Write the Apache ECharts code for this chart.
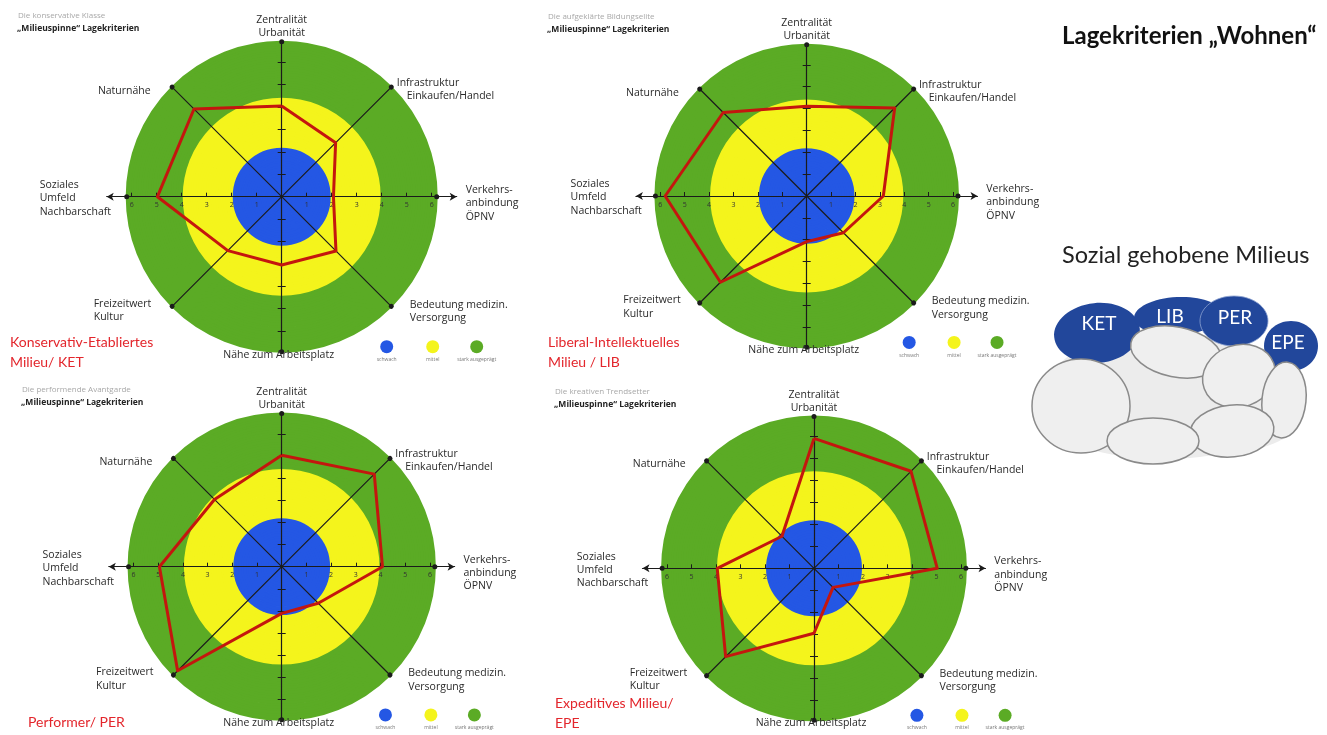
<!DOCTYPE html>
<html><head><meta charset="utf-8">
<script src="https://cdn.jsdelivr.net/npm/echarts@6/dist/echarts.min.js"></script>
<style>html,body{margin:0;padding:0;background:#fff}#c{width:1327px;height:735px}</style>
</head><body><div id="c"></div>
<script>
// ---------------- data ----------------
const criteriaLines = [
  ['Zentralität', 'Urbanität'],
  ['Infrastruktur', 'Einkaufen/Handel'],
  ['Verkehrs-', 'anbindung', 'ÖPNV'],
  ['Bedeutung medizin.', 'Versorgung'],
  ['Nähe zum Arbeitsplatz'],
  ['Freizeitwert', 'Kultur'],
  ['Soziales', 'Umfeld', 'Nachbarschaft'],
  ['Naturnähe']
]; // clockwise from the top
const criteria = criteriaLines.map(l => l.join(' '));

const valuesKET = [3.63, 3.05, 2.07, 3.07, 2.73, 3.05, 4.97, 4.96];
const valuesLIB = [3.68, 5.10, 3.14, 2.13, 1.87, 5.00, 5.80, 4.84];
const valuesPER = [4.51, 5.30, 4.08, 2.09, 1.89, 5.96, 4.95, 3.85];
const valuesEPE = [5.30, 5.60, 5.03, 1.10, 2.65, 5.10, 3.95, 1.85];

const milieuTitles = [['Konservativ-Etabliertes', 'Milieu/ KET'], ['Liberal-Intellektuelles', 'Milieu / LIB'], ['Performer/ PER'], ['Expeditives Milieu/', 'EPE']];
const milieuHeaders = ['Die konservative Klasse', 'Die aufgeklärte Bildungselite', 'Die performende Avantgarde', 'Die kreativen Trendsetter'];
const spiderTitle = '„Milieuspinne“ Lagekriterien';
const bandNames = ['schwach', 'mittel', 'stark ausgeprägt'];
const bandLimits = [2, 4, 6.2];
const tickValues = [-6, -5, -4, -3, -2, -1, 1, 2, 3, 4, 5, 6];
const mainTitle = 'Lagekriterien „Wohnen“';
const subTitle = 'Sozial gehobene Milieus';
const milieuCodes = ['KET', 'LIB', 'PER', 'EPE'];

// ---------------- style / layout ----------------
const BLUE = '#2457e4', YELLOW = '#f4f41c', GREEN = '#5bab25', RED = '#c4160e', AX = '#1b1b1b';
const bandColors = [BLUE, YELLOW, GREEN];
const FONT = '"Open Sans", sans-serif';
const LATO = 'Lato, "Open Sans", sans-serif';
const OUTER = bandLimits[2];
const STEP = 0.2;
const NSPLIT = Math.round(OUTER / STEP);
const ringColors = [];
for (let k = 0; k < NSPLIT; k++) {
  const v = (k + 0.5) * STEP;
  ringColors.push(v < bandLimits[0] ? BLUE : v < bandLimits[1] ? YELLOW : GREEN);
}
const seamColors = ringColors.concat([GREEN]);
// ECharts radar places indicators anticlockwise from the top
const order = [0, 7, 6, 5, 4, 3, 2, 1];

const panels = [
  {cx: 281.7, cy: 196.7, u: 25.0, vals: valuesKET, hdr: [18, 16], red: [10, 342]},
  {cx: 806.7, cy: 196.0, u: 24.4, vals: valuesLIB, hdr: [548, 17], red: [548, 342]},
  {cx: 281.7, cy: 566.7, u: 24.7, vals: valuesPER, hdr: [22, 390], red: [28, 722]},
  {cx: 814.0, cy: 568.3, u: 24.5, vals: valuesEPE, hdr: [555, 392], red: [555, 703]}
];
const labelPos = [
  {x: 0, y: -177, align: 'center'},
  {x: 115, y: -114, align: 'left', indent: [0, 10]},
  {x: 184, y: -7, align: 'left'},
  {x: 128, y: 108, align: 'left'},
  {x: -3, y: 158, align: 'center'},
  {x: -188, y: 107, align: 'left'},
  {x: -242, y: -12, align: 'left'},
  {x: -131, y: -106, align: 'right'}
];
const legendPos = [105, 151, 195];

function txt(x, y, text, font, fill, align, valign, z) {
  return {type: 'text', x: x, y: y, z: z || 20, silent: true,
    style: {text: text, font: font, fill: fill, align: align || 'left', textAlign: align || 'left',
      verticalAlign: valign || 'middle', textVerticalAlign: valign || 'middle'}};
}

const radar = [], series = [], grid = [], xAxis = [], yAxis = [], graphic = [];
panels.forEach((p, k) => {
  const s = p.u / 25;
  const uy = 22.4 * s;
  radar.push({
    center: [p.cx, p.cy], radius: p.u * OUTER, startAngle: 90, shape: 'circle',
    splitNumber: NSPLIT, z: 0,
    indicator: order.map(i => ({name: criteria[i], min: 0, max: OUTER})),
    axisName: {show: false},
    splitLine: {show: true, lineStyle: {color: seamColors, width: 2}},
    splitArea: {show: true, areaStyle: {color: ringColors, opacity: 1}},
    axisLine: {show: true, symbol: ['none', 'circle'], symbolSize: [5, 5], lineStyle: {color: AX, width: 1.2}},
    axisTick: {show: false}, axisLabel: {show: false}
  });
  series.push({
    type: 'radar', radarIndex: k, symbol: 'none', silent: true, z: 5,
    lineStyle: {color: RED, width: 3}, areaStyle: null,
    data: [{name: milieuTitles[k].join(' '), value: order.map(i => p.vals[i])}]
  });
  // grid A: horizontal scale (its bottom edge is the centre line)
  const ga = grid.length;
  grid.push({left: p.cx - 7 * p.u, width: 14 * p.u, top: p.cy - 10, height: 10,
    containLabel: false, outerBoundsMode: 'none', show: false});
  xAxis.push({
    gridIndex: ga, type: 'value', min: -7, max: 7, interval: 1, position: 'bottom', z: 3,
    axisLine: {show: true, onZero: false, symbol: ['arrow', 'arrow'], symbolSize: [6, 7], lineStyle: {color: AX, width: 1.2}},
    axisTick: {show: true, inside: true, length: 4, customValues: tickValues, lineStyle: {color: AX, width: 1}},
    axisLabel: {show: true, customValues: tickValues, formatter: v => String(Math.abs(v)), fontSize: 7, fontFamily: FONT, color: '#333', margin: 5},
    splitLine: {show: false}
  });
  yAxis.push({gridIndex: ga, type: 'value', min: 0, max: 1, show: false});
  // grid B: vertical scale ticks (its left edge is the centre line)
  const gb = grid.length;
  grid.push({left: p.cx, width: 10, top: p.cy - 6 * uy, height: 12 * uy,
    containLabel: false, outerBoundsMode: 'none', show: false});
  xAxis.push({gridIndex: gb, type: 'value', min: 0, max: 1, show: false});
  [false, true].forEach(inside => {
    yAxis.push({
      gridIndex: gb, type: 'value', min: -6, max: 6, interval: 1, position: 'left', z: 3,
      axisLine: {show: false, onZero: false},
      axisTick: {show: true, inside: inside, length: 4, customValues: tickValues, lineStyle: {color: AX, width: 1}},
      axisLabel: {show: false}, splitLine: {show: false}
    });
  });
  // criteria names
  criteriaLines.forEach((lines, i) => {
    const lp = labelPos[i];
    lines.forEach((t, j) => {
      const ind = lp.indent ? lp.indent[j] : 0;
      graphic.push(txt(p.cx + (lp.x + ind) * s, p.cy + (lp.y + j * 13.5) * s, t, '10.5px ' + FONT, '#2a2a2a', lp.align));
    });
  });
  // legend of bands
  bandNames.forEach((b, j) => {
    graphic.push({type: 'circle', x: p.cx + legendPos[j] * s, y: p.cy + 150 * s, z: 20, silent: true,
      shape: {cx: 0, cy: 0, r: 6.5}, style: {fill: bandColors[j]}});
    graphic.push(txt(p.cx + legendPos[j] * s, p.cy + 163 * s, b, '5px ' + FONT, '#777', 'center'));
  });
  // headers
  graphic.push(txt(p.hdr[0], p.hdr[1], milieuHeaders[k], '8px ' + FONT, '#a8a8a8', 'left'));
  graphic.push(txt(p.hdr[0] - 1, p.hdr[1] + 13, spiderTitle, 'bold 8.5px ' + FONT, '#222', 'left'));
  // red milieu names
  milieuTitles[k].forEach((t, j) => {
    graphic.push(txt(p.red[0], p.red[1] + j * 20, t, '14px ' + LATO, '#e3262c', 'left'));
  });
});

// right-hand titles
graphic.push(txt(1062, 36, mainTitle, 'bold 24px ' + LATO, '#111', 'left'));
graphic.push(txt(1062, 255, subTitle, '23.5px ' + LATO, '#222', 'left'));

// milieu landscape illustration
graphic.push({type: 'polygon', z: 10, silent: true, shape: {smooth: 0.3, points: [
  [1062, 362], [1100, 345], [1140, 333], [1220, 338], [1270, 360], [1295, 388], [1300, 425],
  [1270, 445], [1230, 452], [1190, 458], [1140, 458], [1100, 452], [1072, 440], [1060, 400]]},
  style: {fill: '#ececec'}});
const blueBlobs = [
  {x: 1097, y: 333, rx: 43, ry: 30, r: 0.1},
  {x: 1178, y: 316, rx: 44, ry: 19, r: 0.05},
  {x: 1234, y: 321, rx: 34, ry: 25, r: 0},
  {x: 1291, y: 346, rx: 27, ry: 25, r: 0}
];
blueBlobs.forEach(b => graphic.push({type: 'ellipse', x: b.x, y: b.y, rotation: b.r, z: 11, silent: true,
  shape: {cx: 0, cy: 0, rx: b.rx, ry: b.ry}, style: {fill: '#22479b'}}));
graphic.push({type: 'ellipse', x: 1234, y: 321, z: 11, silent: true, shape: {cx: 0, cy: 0, rx: 34, ry: 25},
  style: {fill: 'none', stroke: '#8da2d0', lineWidth: 0.8}});
const grayEllipses = [
  {x: 1081, y: 406, rx: 49, ry: 47, r: 0},
  {x: 1176, y: 352, rx: 46, ry: 25, r: -0.2},
  {x: 1239, y: 376, rx: 37, ry: 31, r: 0.35},
  {x: 1284, y: 400, rx: 22, ry: 38, r: -0.1},
  {x: 1232, y: 431, rx: 42, ry: 26, r: 0.1},
  {x: 1153, y: 441, rx: 46, ry: 23, r: 0}
];
grayEllipses.forEach(e => graphic.push({type: 'ellipse', x: e.x, y: e.y, rotation: e.r, z: 12, silent: true,
  shape: {cx: 0, cy: 0, rx: e.rx, ry: e.ry}, style: {fill: '#efefef', stroke: '#8a8a8a', lineWidth: 1.5}}));
const codePos = [[1099, 324], [1170, 317], [1235, 318], [1288, 343]];
milieuCodes.forEach((c, j) => graphic.push(txt(codePos[j][0], codePos[j][1], c, '19px ' + LATO, '#ffffff', 'center', 'middle', 13)));

const chart = echarts.init(document.getElementById('c'));
chart.setOption({
  animation: false,
  backgroundColor: '#ffffff',
  radar: radar, grid: grid, xAxis: xAxis, yAxis: yAxis, series: series,
  graphic: {elements: graphic}
});
</script></body></html>
